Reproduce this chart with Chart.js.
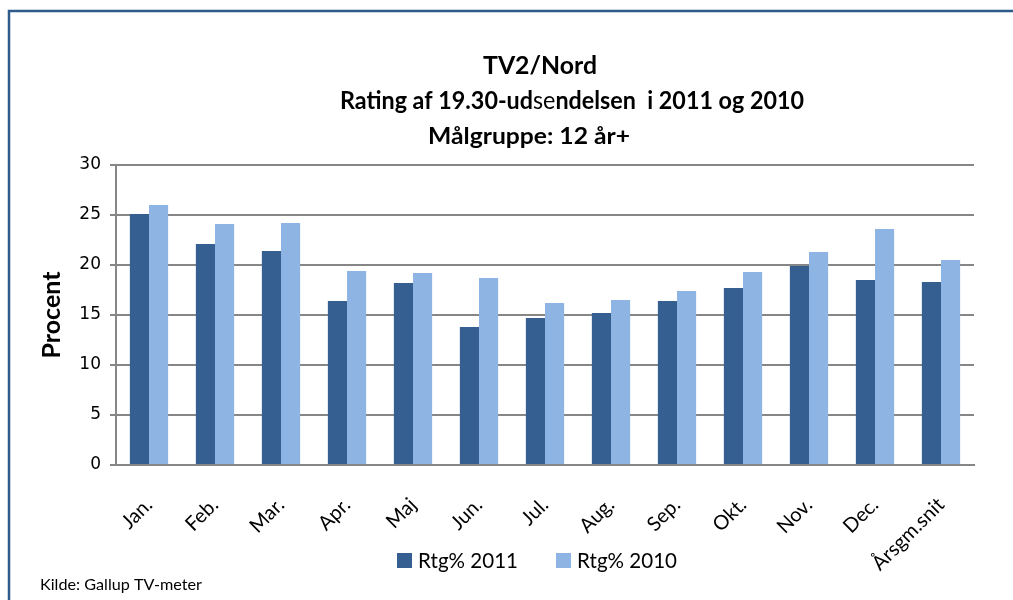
<!DOCTYPE html>
<html>
<head>
<meta charset="utf-8">
<script src="https://cdn.jsdelivr.net/npm/chart.js@4/dist/chart.umd.min.js"></script>
<style>
  html, body { margin:0; padding:0; background:#fff; }
  #wrap { width:1013px; height:600px; position:relative; }
</style>
</head>
<body>
<div id="wrap"><canvas id="chart" width="1013" height="600"></canvas></div>
<script>
// data
const maaneder = ['Jan.','Feb.','Mar.','Apr.','Maj','Jun.','Jul.','Aug.','Sep.','Okt.','Nov.','Dec.','Årsgm.snit'];
const rtg2011 = [25.1, 22.1, 21.4, 16.4, 18.2, 13.8, 14.7, 15.2, 16.4, 17.7, 19.9, 18.5, 18.3];
const rtg2010 = [26.0, 24.1, 24.2, 19.4, 19.2, 18.7, 16.2, 16.5, 17.4, 19.3, 21.3, 23.6, 20.5];
const yTicks = [0, 5, 10, 15, 20, 25, 30];

const FONT = 'Lato, "Open Sans", sans-serif';

// titel med blandet vægt, egen legende, kildetekst og ramme
const pynt = {
  id: 'pynt',
  afterDraw(chart) {
    const c = chart.ctx;
    c.save();
    c.strokeStyle = '#2f5a8c';
    c.lineWidth = 2.5;
    c.beginPath();
    c.moveTo(9, 600); c.lineTo(9, 11); c.lineTo(1013, 11);
    c.stroke();

    // tekst i given størrelse, presset sammen vandret til en given bredde (Calibri er smal)
    const linje = (segs, x, y, bredde, size) => {
      let w = 0;
      segs.forEach(s => { c.font = (s[1] ? 'bold ' : '') + size + 'px ' + FONT; w += c.measureText(s[0]).width; });
      c.save();
      c.translate(x, y);
      c.scale(Math.min(1.2, bredde / w), 1);
      c.textBaseline = 'middle';
      c.textAlign = 'left';
      c.fillStyle = '#000';
      let xx = 0;
      segs.forEach(s => { c.font = (s[1] ? 'bold ' : '') + size + 'px ' + FONT; c.fillText(s[0], xx, 0); xx += c.measureText(s[0]).width; });
      c.restore();
    };
    linje([['TV2/Nord', true]], 483, 66, 114, 25);
    linje([['Rating af 19.30-ud', true], ['se', false], ['ndelsen  i 2011 og 2010', true]], 340, 101, 464, 25);
    linje([['Målgruppe: 12 år+', true]], 428, 137, 202, 22);

    // legende
    const pos = [[397, 418], [556, 577]];
    chart.data.datasets.forEach((ds, i) => {
      c.fillStyle = ds.backgroundColor;
      c.fillRect(pos[i][0], 553, 15, 15);
      linje([[ds.label, false]], pos[i][1], 561, 100, 21);
    });

    linje([['Kilde: Gallup TV-meter', false]], 40, 585, 162, 16);
    c.restore();
  }
};

new Chart(document.getElementById('chart').getContext('2d'), {
  type: 'bar',
  data: {
    labels: maaneder,
    datasets: [
      { label: 'Rtg% 2011', data: rtg2011, backgroundColor: '#365f91', borderWidth: 0 },
      { label: 'Rtg% 2010', data: rtg2010, backgroundColor: '#8eb4e3', borderWidth: 0 }
    ]
  },
  options: {
    responsive: false,
    animation: false,
    layout: { padding: { top: 165, right: 39, left: 0, bottom: 10 } },
    datasets: { bar: { categoryPercentage: 0.58, barPercentage: 1.0 } },
    plugins: {
      title: { display: false },
      tooltip: { enabled: false },
      legend: { display: false }
    },
    scales: {
      x: {
        grid: { display: false },
        border: { display: true, color: '#868686', width: 2 },
        ticks: {
          minRotation: 45, maxRotation: 45, autoSkip: false,
          color: '#000', font: { family: FONT, size: 20 }, padding: 20
        },
        afterFit(s) { s.height = 125; }
      },
      y: {
        min: 0, max: 30,
        afterBuildTicks(s) { s.ticks = yTicks.map(v => ({ value: v })); },
        grid: { color: '#868686', lineWidth: 2, tickLength: 6, drawTicks: true },
        border: { display: true, color: '#868686', width: 2 },
        ticks: { color: '#000', font: { family: '"DejaVu Sans", sans-serif', size: 17 }, padding: 9 },
        title: { display: true, text: 'Procent', color: '#000', font: { family: FONT, size: 25, weight: 'bold' }, padding: { top: 37, bottom: 0 } },
        afterFit(s) { s.width = 116; }
      }
    }
  },
  plugins: [pynt]
});
</script>
</body>
</html>
